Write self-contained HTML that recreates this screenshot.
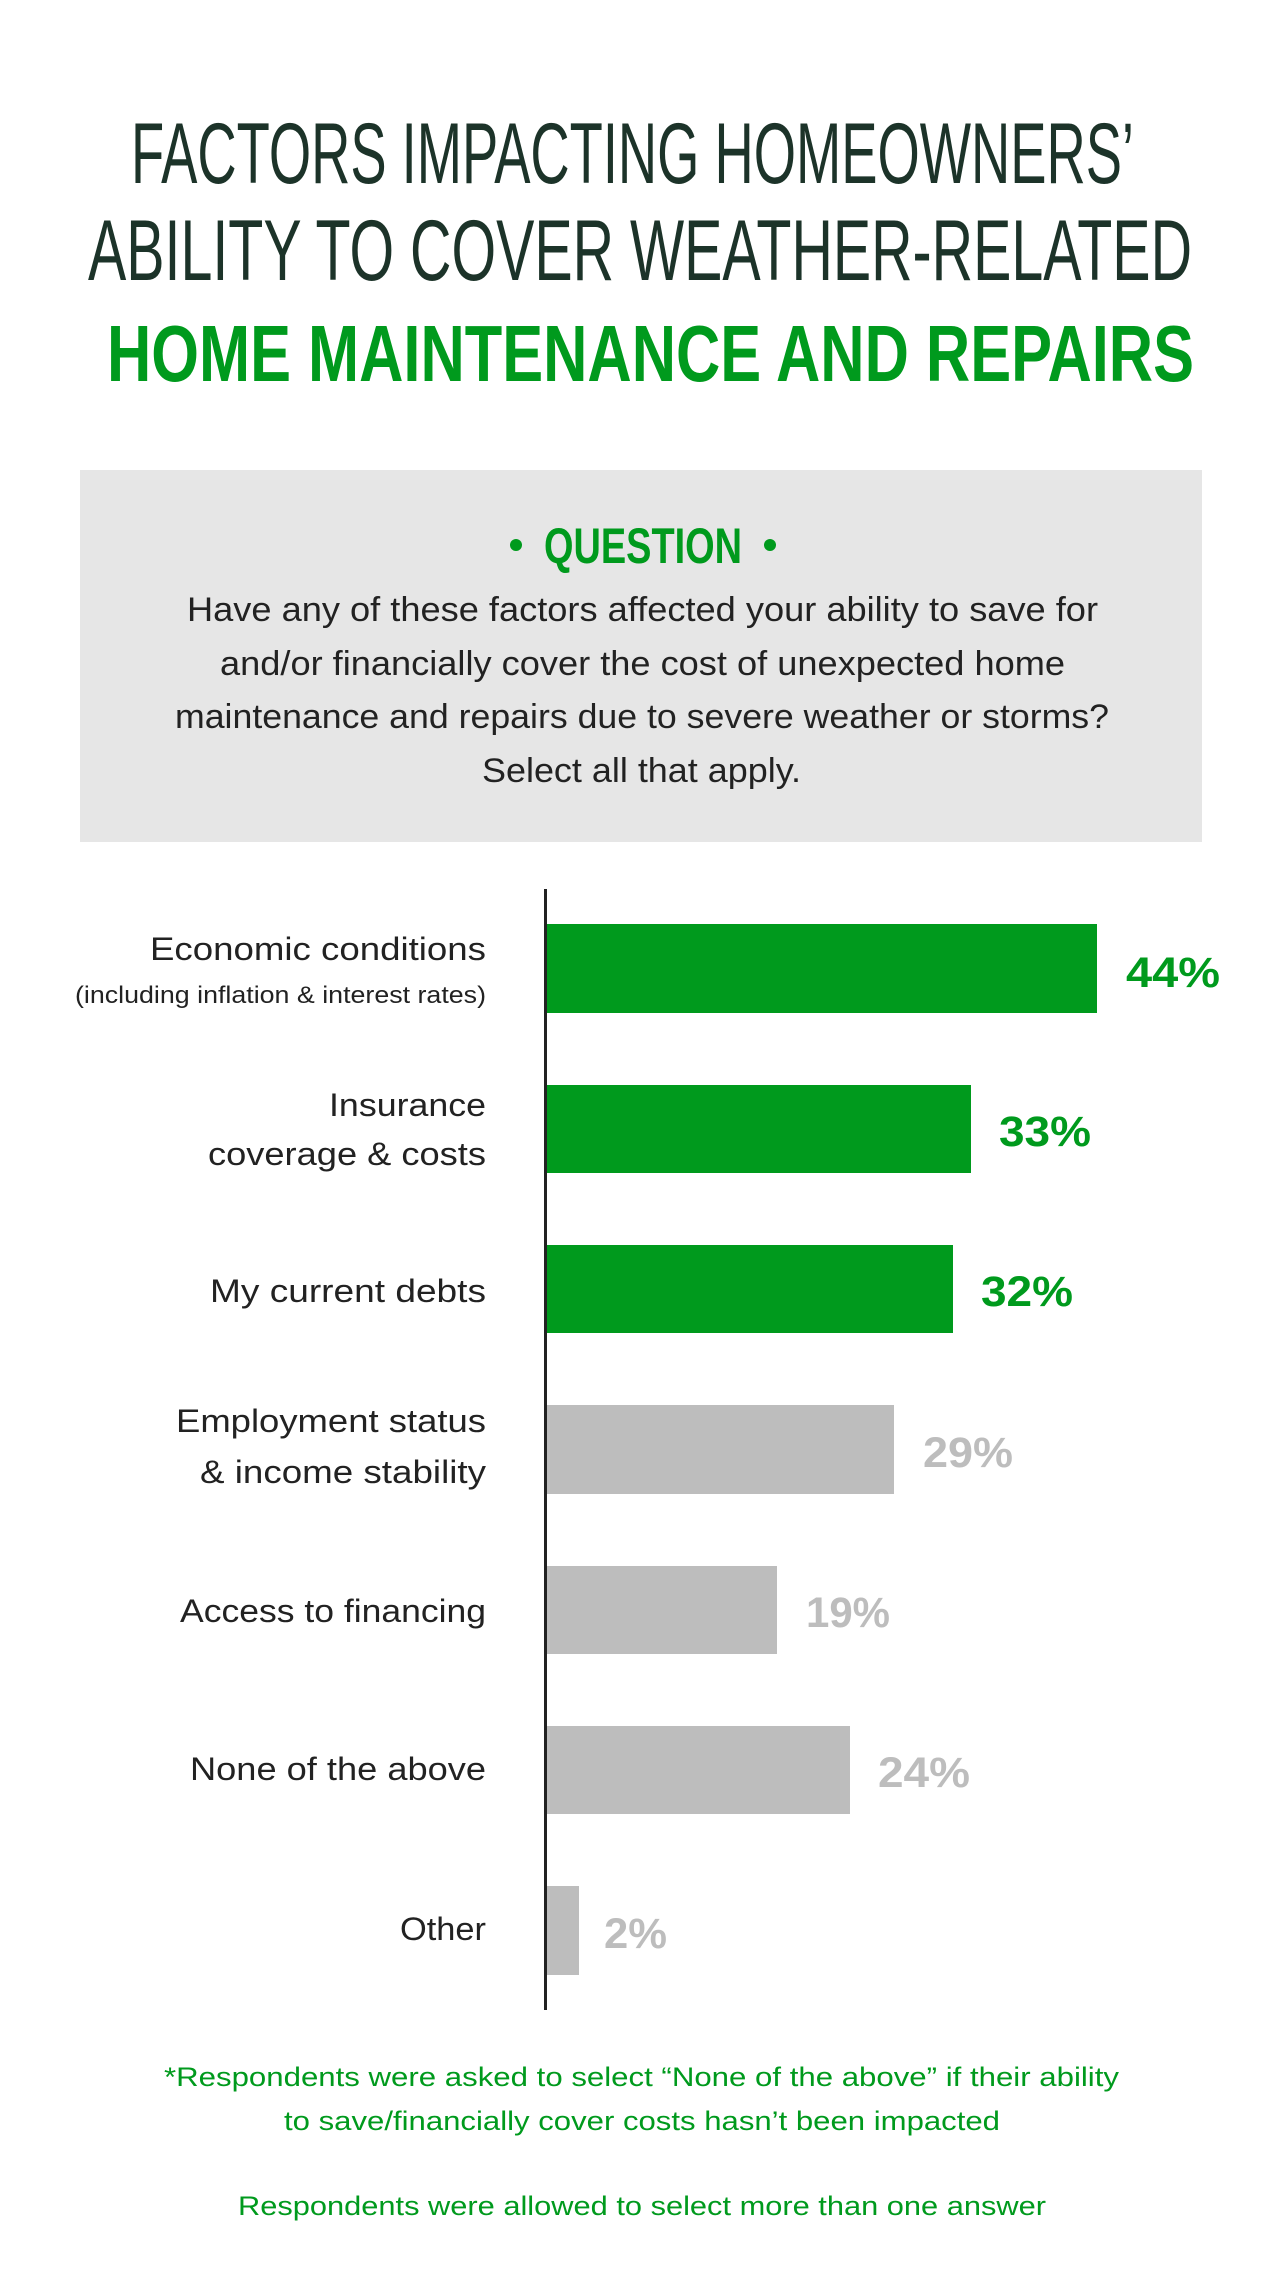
<!DOCTYPE html>
<html><head><meta charset="utf-8"><style>
html,body{margin:0;padding:0;background:#fff;width:1280px;height:2288px;overflow:hidden}
svg{display:block}
text{font-family:"Liberation Sans",sans-serif}
</style></head><body>
<svg width="1280" height="2288" viewBox="0 0 1280 2288" xmlns="http://www.w3.org/2000/svg">
<g fill="#1c3329" font-size="86">
<text x="131" y="183" textLength="1003" lengthAdjust="spacingAndGlyphs">FACTORS IMPACTING HOMEOWNERS’</text>
<text x="88" y="280" textLength="1104" lengthAdjust="spacingAndGlyphs">ABILITY TO COVER WEATHER-RELATED</text>
</g>
<text x="107" y="381" font-size="80" font-weight="bold" fill="#009a1d" textLength="1087" lengthAdjust="spacingAndGlyphs">HOME MAINTENANCE AND REPAIRS</text>
<rect x="80" y="470" width="1122" height="372" fill="#e6e6e6"/>
<circle cx="516" cy="545" r="6" fill="#009a1d"/>
<circle cx="770" cy="545" r="6" fill="#009a1d"/>
<text x="544" y="563" font-size="50" font-weight="bold" fill="#009a1d" textLength="198" lengthAdjust="spacingAndGlyphs">QUESTION</text>
<g fill="#222" font-size="34">
<text x="187" y="621" textLength="911" lengthAdjust="spacingAndGlyphs">Have any of these factors affected your ability to save for</text>
<text x="220" y="675" textLength="845" lengthAdjust="spacingAndGlyphs">and/or financially cover the cost of unexpected home</text>
<text x="175" y="728" textLength="934" lengthAdjust="spacingAndGlyphs">maintenance and repairs due to severe weather or storms?</text>
<text x="482" y="782" textLength="319" lengthAdjust="spacingAndGlyphs">Select all that apply.</text>
</g>
<g fill="#009a1d">
<rect x="547" y="924" width="550" height="89"/>
<rect x="547" y="1085" width="424" height="88"/>
<rect x="547" y="1245" width="406" height="88"/>
</g>
<g fill="#bdbdbd">
<rect x="547" y="1405" width="347" height="89"/>
<rect x="547" y="1566" width="230" height="88"/>
<rect x="547" y="1726" width="303" height="88"/>
<rect x="547" y="1886" width="32" height="89"/>
</g>
<rect x="544" y="889" width="3" height="1121" fill="#222"/>
<g font-size="43" font-weight="bold">
<text x="1126" y="987" fill="#009a1d" textLength="94" lengthAdjust="spacingAndGlyphs">44%</text>
<text x="999" y="1146" fill="#009a1d" textLength="92" lengthAdjust="spacingAndGlyphs">33%</text>
<text x="981" y="1306" fill="#009a1d" textLength="92" lengthAdjust="spacingAndGlyphs">32%</text>
<text x="923" y="1467" fill="#bdbdbd" textLength="90" lengthAdjust="spacingAndGlyphs">29%</text>
<text x="806" y="1627" fill="#bdbdbd" textLength="84" lengthAdjust="spacingAndGlyphs">19%</text>
<text x="878" y="1787" fill="#bdbdbd" textLength="92" lengthAdjust="spacingAndGlyphs">24%</text>
<text x="604" y="1948" fill="#bdbdbd" textLength="63" lengthAdjust="spacingAndGlyphs">2%</text>
</g>
<g fill="#222" font-size="32">
<text x="150" y="960" textLength="336" lengthAdjust="spacingAndGlyphs">Economic conditions</text>
<text x="75" y="1003" font-size="24" textLength="411" lengthAdjust="spacingAndGlyphs">(including inflation &amp; interest rates)</text>
<text x="329" y="1116" textLength="157" lengthAdjust="spacingAndGlyphs">Insurance</text>
<text x="208" y="1165" textLength="278" lengthAdjust="spacingAndGlyphs">coverage &amp; costs</text>
<text x="210" y="1302" textLength="276" lengthAdjust="spacingAndGlyphs">My current debts</text>
<text x="176" y="1432" textLength="310" lengthAdjust="spacingAndGlyphs">Employment status</text>
<text x="200" y="1483" textLength="286" lengthAdjust="spacingAndGlyphs">&amp; income stability</text>
<text x="180" y="1622" textLength="306" lengthAdjust="spacingAndGlyphs">Access to financing</text>
<text x="190" y="1780" textLength="296" lengthAdjust="spacingAndGlyphs">None of the above</text>
<text x="400" y="1940" textLength="86" lengthAdjust="spacingAndGlyphs">Other</text>
</g>
<g fill="#009a1d" font-size="27">
<text x="164" y="2086" textLength="955" lengthAdjust="spacingAndGlyphs">*Respondents were asked to select “None of the above” if their ability</text>
<text x="284" y="2130" textLength="716" lengthAdjust="spacingAndGlyphs">to save/financially cover costs hasn’t been impacted</text>
<text x="238" y="2215" textLength="808" lengthAdjust="spacingAndGlyphs">Respondents were allowed to select more than one answer</text>
</g>
</svg>
</body></html>
